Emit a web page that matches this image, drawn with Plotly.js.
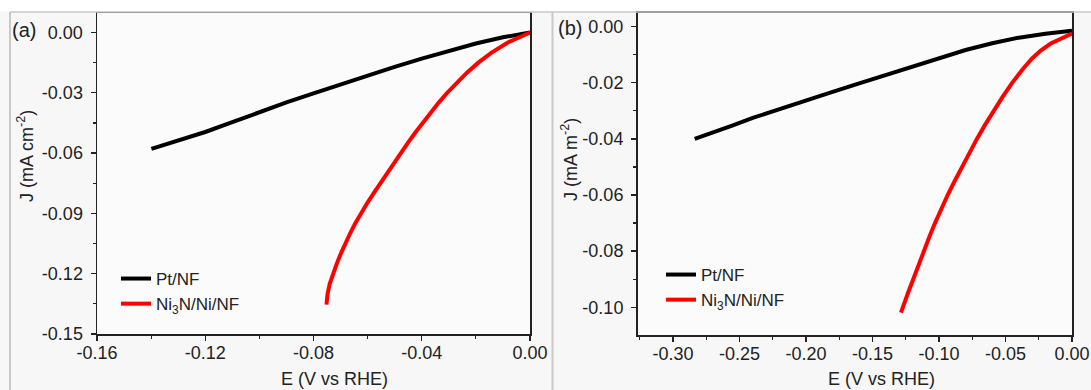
<!DOCTYPE html>
<html>
<head>
<meta charset="utf-8">
<script src="https://cdn.plot.ly/plotly-3.0.1.min.js"></script>
<style>
  html, body { margin: 0; padding: 0; background: #f7f7f7; }
  #chart { width: 1091px; height: 390px; }
</style>
</head>
<body>
<div id="chart"></div>
<script>
// ---- Panel (a) data ----
const ptA_E  = [-0.1399, -0.1300, -0.1200, -0.1100, -0.1000, -0.0900, -0.0800, -0.0700, -0.0600, -0.0500, -0.0400, -0.0300, -0.0200, -0.0100, 0.0000];
const ptA_J  = [-0.0579, -0.0538, -0.0495, -0.0446, -0.0396, -0.0348, -0.0303, -0.0258, -0.0214, -0.0171, -0.0130, -0.0091, -0.0055, -0.0024, 0.0000];
const niA_E  = [0.0000, -0.0082, -0.0142, -0.0191, -0.0233, -0.0271, -0.0306, -0.0338, -0.0368, -0.0397, -0.0425, -0.0452, -0.0478, -0.0504, -0.0529, -0.0554, -0.0578, -0.0602, -0.0625, -0.0646, -0.0665, -0.0683, -0.0699, -0.0714, -0.0728, -0.0740, -0.0748, -0.0752];
const niA_J  = [0.0000, -0.0050, -0.0100, -0.0150, -0.0200, -0.0250, -0.0300, -0.0350, -0.0400, -0.0450, -0.0500, -0.0550, -0.0600, -0.0650, -0.0700, -0.0750, -0.0800, -0.0850, -0.0900, -0.0950, -0.1000, -0.1050, -0.1100, -0.1150, -0.1200, -0.1250, -0.1300, -0.1354];

// ---- Panel (b) data ----
const ptB_E  = [-0.2837, -0.2700, -0.2550, -0.2400, -0.2200, -0.2000, -0.1800, -0.1600, -0.1400, -0.1200, -0.1000, -0.0800, -0.0600, -0.0400, -0.0200, 0.0000];
const ptB_J  = [-0.0400, -0.0378, -0.0352, -0.0325, -0.0293, -0.0262, -0.0232, -0.0202, -0.0172, -0.0141, -0.0111, -0.0083, -0.0059, -0.0039, -0.0025, -0.0014];
const niB_E  = [0.0000, -0.0078, -0.0160, -0.0235, -0.0300, -0.0368, -0.0450, -0.0522, -0.0590, -0.0654, -0.0715, -0.0773, -0.0828, -0.0882, -0.0935, -0.0984, -0.1030, -0.1073, -0.1115, -0.1155, -0.1195, -0.1234, -0.1286];
const niB_J  = [-0.0024, -0.0040, -0.0060, -0.0085, -0.0113, -0.0150, -0.0200, -0.0250, -0.0300, -0.0350, -0.0400, -0.0450, -0.0500, -0.0550, -0.0600, -0.0650, -0.0700, -0.0750, -0.0800, -0.0850, -0.0900, -0.0950, -0.1019];

// ---- Names and tick labels ----
const seriesNames = ["Pt/NF", "Ni<sub>3</sub>N/Ni/NF"];
const xTickValsA = [-0.16, -0.12, -0.08, -0.04, 0.00];
const xTickTextA = ["-0.16", "-0.12", "-0.08", "-0.04", "0.00"];
const yTickValsA = [0.00, -0.03, -0.06, -0.09, -0.12, -0.15];
const yTickTextA = ["0.00", "-0.03", "-0.06", "-0.09", "-0.12", "-0.15"];
const xTickValsB = [-0.30, -0.25, -0.20, -0.15, -0.10, -0.05, 0.00];
const xTickTextB = ["-0.30", "-0.25", "-0.20", "-0.15", "-0.10", "-0.05", "0.00"];
const yTickValsB = [0.00, -0.02, -0.04, -0.06, -0.08, -0.10];
const yTickTextB = ["0.00", "-0.02", "-0.04", "-0.06", "-0.08", "-0.10"];
const xTitle = "E (V vs RHE)";
const yTitleA = "J (mA cm<sup>-2</sup>)";
const yTitleB = "J (mA m<sup>-2</sup>)";

const FONT = "Liberation Sans, Arial, sans-serif";
const W = 1091, H = 390;
const px = v => v / W;
const py = v => 1 - v / H;

const lineStyle = c => ({ color: c, width: 4, shape: "linear" });

const traces = [
  { x: ptA_E, y: ptA_J, mode: "lines", name: seriesNames[0], line: lineStyle("#000000"), xaxis: "x", yaxis: "y", legend: "legend" },
  { x: niA_E, y: niA_J, mode: "lines", name: seriesNames[1], line: lineStyle("#ff0000"), xaxis: "x", yaxis: "y", legend: "legend" },
  { x: ptB_E, y: ptB_J, mode: "lines", name: seriesNames[0], line: lineStyle("#000000"), xaxis: "x2", yaxis: "y2", legend: "legend2" },
  { x: niB_E, y: niB_J, mode: "lines", name: seriesNames[1], line: lineStyle("#ff0000"), xaxis: "x2", yaxis: "y2", legend: "legend2" }
];

const axisBase = {
  showgrid: false, zeroline: false,
  showline: true, linecolor: "#222", linewidth: 1.5, mirror: true,
  ticks: "outside", ticklen: 5, tickwidth: 1.3, tickcolor: "#222",
  tickmode: "array",
  tickfont: { family: FONT, size: 18, color: "#222" },
  fixedrange: true
};

const layout = {
  width: W, height: H,
  margin: { l: 0, r: 0, t: 0, b: 0 },
  paper_bgcolor: "#f7f7f7",
  plot_bgcolor: "#fbfbfb",
  showlegend: true,
  xaxis: Object.assign({}, axisBase, {
    domain: [px(97), px(530)], range: [-0.16, 0.0],
    tickvals: xTickValsA, ticktext: xTickTextA, ticklabelstandoff: -3,
    minor: { ticks: "outside", ticklen: 3, tickwidth: 1.2, tickcolor: "#222", dtick: 0.02, tick0: 0 },
    anchor: "y"
  }),
  yaxis: Object.assign({}, axisBase, {
    domain: [py(334), py(13)], range: [-0.15, 0.0097],
    tickvals: yTickValsA, ticktext: yTickTextA, ticklabelstandoff: 4,
    minor: { ticks: "outside", ticklen: 3, tickwidth: 1.2, tickcolor: "#222", dtick: 0.015, tick0: 0 },
    anchor: "x"
  }),
  xaxis2: Object.assign({}, axisBase, {
    domain: [px(637.5), px(1072)], range: [-0.3267, 0.0],
    tickvals: xTickValsB, ticktext: xTickTextB, ticklabelstandoff: -3,
    minor: { ticks: "outside", ticklen: 3, tickwidth: 1.2, tickcolor: "#222", dtick: 0.025, tick0: 0 },
    anchor: "y2"
  }),
  yaxis2: Object.assign({}, axisBase, {
    domain: [py(335), py(12.7)], range: [-0.1099, 0.005],
    tickvals: yTickValsB, ticktext: yTickTextB, ticklabelstandoff: 4,
    minor: { ticks: "outside", ticklen: 3, tickwidth: 1.2, tickcolor: "#222", dtick: 0.01, tick0: 0 },
    anchor: "x2"
  }),
  legend: {
    x: px(116), y: py(261), xanchor: "left", yanchor: "top",
    bgcolor: "rgba(0,0,0,0)", borderwidth: 0,
    font: { family: FONT, size: 17, color: "#222" },
    tracegroupgap: 0
  },
  legend2: {
    x: px(661), y: py(257), xanchor: "left", yanchor: "top",
    bgcolor: "rgba(0,0,0,0)", borderwidth: 0,
    font: { family: FONT, size: 17, color: "#222" },
    tracegroupgap: 0
  },
  annotations: [
    { xref: "paper", yref: "paper", x: px(334), y: py(379), text: xTitle, showarrow: false,
      xanchor: "center", yanchor: "middle", font: { family: FONT, size: 18, color: "#222" } },
    { xref: "paper", yref: "paper", x: px(881), y: py(379), text: xTitle, showarrow: false,
      xanchor: "center", yanchor: "middle", font: { family: FONT, size: 18, color: "#222" } },
    { xref: "paper", yref: "paper", x: px(25), y: py(156), text: yTitleA, showarrow: false, textangle: -90,
      xanchor: "center", yanchor: "middle", font: { family: FONT, size: 18, color: "#222" } },
    { xref: "paper", yref: "paper", x: px(569), y: py(160), text: yTitleB, showarrow: false, textangle: -90,
      xanchor: "center", yanchor: "middle", font: { family: FONT, size: 18, color: "#222" } },
    { xref: "paper", yref: "paper", x: px(24), y: py(30), text: "(a)", showarrow: false,
      xanchor: "center", yanchor: "middle", font: { family: FONT, size: 20, color: "#222" } },
    { xref: "paper", yref: "paper", x: px(570), y: py(28), text: "(b)", showarrow: false,
      xanchor: "center", yanchor: "middle", font: { family: FONT, size: 20, color: "#222" } }
  ],
  shapes: [
    { type: "rect", xref: "paper", yref: "paper", x0: 0, x1: 1, y0: py(11.5), y1: 1,
      fillcolor: "#ffffff", line: { width: 0 }, layer: "below" },
    { type: "line", xref: "paper", yref: "paper", x0: px(10), x1: 1, y0: py(12), y1: py(12),
      line: { color: "#c9c9c9", width: 1.5 } },
    { type: "line", xref: "paper", yref: "paper", x0: px(10), x1: px(10), y0: 0, y1: py(12),
      line: { color: "#c9c9c9", width: 2 } },
    { type: "line", xref: "paper", yref: "paper", x0: px(552.5), x1: px(552.5), y0: 0, y1: py(12),
      line: { color: "#c9c9c9", width: 2 } }
  ]
};

Plotly.newPlot("chart", traces, layout, { staticPlot: true, displayModeBar: false });
</script>
</body>
</html>
